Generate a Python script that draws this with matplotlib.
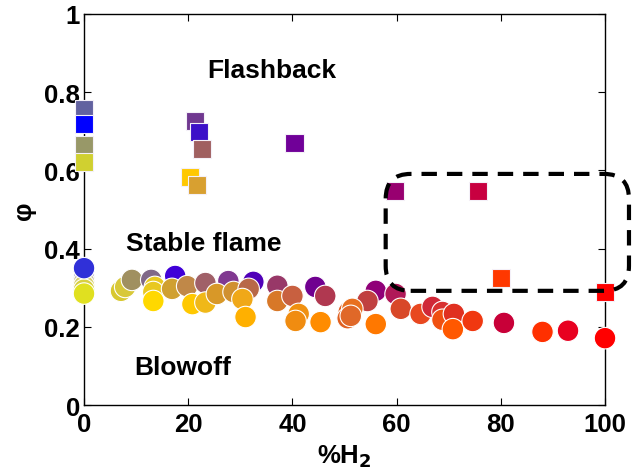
import matplotlib
matplotlib.use("Agg")
import matplotlib.pyplot as plt
from matplotlib.patches import FancyBboxPatch

plt.rcParams['font.family'] = ['Liberation Sans', 'DejaVu Sans']
plt.rcParams['font.weight'] = 'bold'

# Flashback points (squares)
sq_x = [0, 0, 0, 0, 21.3, 22.1, 22.7, 20.4, 21.7, 40.4, 59.6, 75.6, 80.0, 100.0]
sq_y = [0.757, 0.719, 0.665, 0.621, 0.726, 0.698, 0.655, 0.583, 0.563, 0.670, 0.547, 0.547, 0.325, 0.289]
sq_c = ['#6262A0', '#0000FF', '#989868', '#D0D030', '#703890', '#3C10C8', '#A06060',
        '#FFC800', '#D8A030', '#700098', '#980070', '#C80040', '#FF3800', '#FF0000']

# Blowoff points (circles)
ci_x = [0, 0, 0, 0, 0, 0,
        7.1, 7.9, 9.2, 12.9, 13.6, 13.3, 13.3, 17.5, 16.9, 19.8, 23.3, 20.8, 23.3,
        27.7, 32.5, 25.5, 28.7, 31.6, 30.4, 31.0, 37.1, 37.1, 40.0, 41.2, 40.6,
        44.4, 46.3, 45.4, 50.8, 50.6, 56.0, 54.4, 51.5, 51.2, 56.0, 59.8, 60.8,
        64.6, 66.9, 68.8, 68.8, 71.0, 70.8, 74.6, 80.6, 88.0, 92.9, 100.0]
ci_y = [0.325, 0.315, 0.305, 0.295, 0.285, 0.350,
        0.292, 0.302, 0.320, 0.320, 0.302, 0.289, 0.266, 0.330, 0.297, 0.304, 0.312, 0.258, 0.262,
        0.317, 0.315, 0.284, 0.289, 0.297, 0.271, 0.225, 0.305, 0.266, 0.279, 0.233, 0.215,
        0.302, 0.279, 0.212, 0.238, 0.222, 0.292, 0.266, 0.246, 0.228, 0.207, 0.284, 0.246,
        0.233, 0.251, 0.238, 0.218, 0.233, 0.194, 0.215, 0.210, 0.187, 0.190, 0.171]
ci_c = ['#A8A0C0', '#C8C0A0', '#D8D070', '#D8D040', '#E0E020', '#3030D8',
        '#D8C830', '#D8C838', '#A09060', '#806888', '#E8C820', '#E8C820', '#FFD800', '#4000D8',
        '#D0A030', '#C08848', '#A06068', '#FFC800', '#F0B818',
        '#803890', '#5000B8', '#D89828', '#D09030', '#B86848', '#F0A818', '#FFB000',
        '#983868', '#D87828', '#C86040', '#F09010', '#F08C10',
        '#700090', '#B03850', '#FF8C00', '#E06020', '#E06020', '#900078', '#C04040',
        '#E87020', '#E06828', '#FF7800', '#B01858', '#D84828',
        '#E84820', '#D02838', '#D83030', '#F05010', '#E03020', '#FF5800', '#F03810',
        '#C80038', '#FF3000', '#E80020', '#FF0000']

x_ticks = [0, 20, 40, 60, 80, 100]
y_ticks = [0, 0.2, 0.4, 0.6, 0.8, 1]
y_tick_labels = ['0', '0.2', '0.4', '0.6', '0.8', '1']

fig = plt.figure(figsize=(6.38, 4.77), dpi=100)
ax = fig.add_axes([0.1317, 0.1488, 0.8166, 0.8198])

ax.scatter(sq_x, sq_y, s=13**2, marker='s', c=sq_c, edgecolors='#F4F0F8',
           linewidths=0.8, clip_on=False, zorder=5)
ax.scatter(ci_x, ci_y, s=15.5**2, marker='o', c=ci_c, edgecolors='white',
           linewidths=0.8, clip_on=False, zorder=5)

# dashed rounded box
x0, x1, y0, y1 = 57.9, 104.6, 0.292, 0.591
box = FancyBboxPatch((x0, y0), x1 - x0, y1 - y0,
                     boxstyle='round,pad=0,rounding_size=4.8',
                     mutation_aspect=5.2 / 391,
                     fill=False, edgecolor='black', linewidth=3,
                     linestyle=(0, (3.7, 2.4)), clip_on=False, zorder=6)
ax.add_patch(box)

ax.text(36, 0.857, 'Flashback', fontsize=19, fontweight='bold', ha='center', va='center')
ax.text(22.9, 0.414, 'Stable flame', fontsize=19, fontweight='bold', ha='center', va='center')
ax.text(19, 0.097, 'Blowoff', fontsize=19, fontweight='bold', ha='center', va='center')

ax.set_xlim(0, 100)
ax.set_ylim(0, 1)
ax.set_xticks(x_ticks)
ax.set_xticklabels([str(t) for t in x_ticks])
ax.set_yticks(y_ticks)
ax.set_yticklabels(y_tick_labels)
ax.tick_params(direction='in', length=5, width=0.8, top=True, right=True,
               labelsize=18.5)
ax.tick_params(axis='x', pad=5)
ax.tick_params(axis='y', pad=3)
for sp in ax.spines.values():
    sp.set_linewidth(1.0)

ax.set_xlabel('%H$_\\mathbf{2}$', fontsize=18.5, fontweight='bold', labelpad=5)
ax.set_ylabel('\u03c6', fontsize=18.5, fontweight='bold', labelpad=6)

fig.savefig('out.png', dpi=100)
